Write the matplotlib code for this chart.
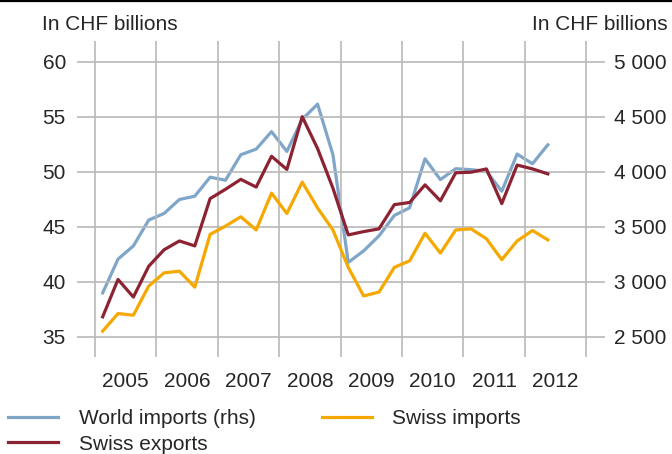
import matplotlib.pyplot as plt
from matplotlib.lines import Line2D
import numpy as np

plt.rcParams['font.family'] = ['Liberation Sans', 'DejaVu Sans']

# quarterly data, 2005 Q1 .. 2012 Q2
years = [2005, 2006, 2007, 2008, 2009, 2010, 2011, 2012]
quarter_pos = np.arange(2005, 2012.5, 0.25) + 0.125

world_imports = [2898, 3205, 3325, 3560, 3620, 3747, 3777, 3950, 3922, 4154,
                 4205, 4364, 4184, 4476, 4614, 4154, 3175, 3280, 3416, 3602,
                 3672, 4117, 3928, 4027, 4018, 4003, 3822, 4160, 4072, 4244]
swiss_exports = [36.8, 40.2, 38.6, 41.4, 42.9, 43.7, 43.25, 47.55, 48.4, 49.3,
                 48.6, 51.4, 50.2, 55.0, 52.1, 48.5, 44.25, 44.55, 44.8, 47.0,
                 47.2, 48.8, 47.35, 49.9, 49.95, 50.25, 47.1, 50.6, 50.25, 49.8]
swiss_imports = [35.5, 37.1, 36.95, 39.6, 40.8, 40.95, 39.5, 44.3, 45.05, 45.9,
                 44.7, 48.05, 46.2, 49.05, 46.7, 44.7, 41.3, 38.7, 39.05, 41.3,
                 41.9, 44.4, 42.6, 44.7, 44.8, 43.9, 42.0, 43.7, 44.65, 43.8]

left_ticks = [35, 40, 45, 50, 55, 60]
right_ticks = [2500, 3000, 3500, 4000, 4500, 5000]

BLUE = '#7fa6c9'
RED = '#8c2332'
ORANGE = '#f5a800'
GRID = '#b9b9b9'
TXT = '#262626'

W, H = 672, 454
fig = plt.figure(figsize=(W / 100, H / 100), dpi=100)
ax = fig.add_axes([77 / W, 1 - 357 / H, 528 / W, 316 / H])
ax2 = ax.twinx()

ylo, yhi = 33.15, 61.88
ax.set_ylim(ylo, yhi)
ax2.set_ylim(100 * ylo - 1000, 100 * yhi - 1000)
ax.set_xlim(2004.707, 2013.306)

for y in left_ticks:
    ax.axhline(y, color=GRID, lw=1.2, zorder=0)
for x in years + [2013]:
    ax.axvline(x, color=GRID, lw=1.2, zorder=0)

l_world, = ax2.plot(quarter_pos, world_imports, color=BLUE, lw=2.3,
                    label='World imports (rhs)')
l_exp, = ax.plot(quarter_pos, swiss_exports, color=RED, lw=2.3,
                 label='Swiss exports')
l_imp, = ax.plot(quarter_pos, swiss_imports, color=ORANGE, lw=2.3,
                 label='Swiss imports')
ax.set_zorder(ax2.get_zorder() + 1)
ax.patch.set_visible(False)

for a in (ax, ax2):
    for s in a.spines.values():
        s.set_visible(False)

ax.set_yticks(left_ticks)
ax.set_yticklabels([str(v) for v in left_ticks])
ax.tick_params(axis='y', length=0, pad=8, labelsize=15, labelcolor=TXT)
ax2.set_yticks(right_ticks)
ax2.set_yticklabels([f'{v:,}'.replace(',', ' ') for v in right_ticks])
ax2.tick_params(axis='y', length=0, pad=6.5, labelsize=15, labelcolor=TXT)

ax.set_xticks([y + 0.5 for y in years])
ax.set_xticklabels([str(y) for y in years])
ax.tick_params(axis='x', length=0, pad=11, labelsize=15, labelcolor=TXT)

fig.text(42 / W, 1 - 24 / H, 'In CHF billions', fontsize=15, color=TXT,
         ha='left', va='center')
fig.text(668 / W, 1 - 24 / H, 'In CHF billions', fontsize=15, color=TXT,
         ha='right', va='center')

# top rule
fig.add_artist(Line2D([0, 1], [1 - 0.75 / H, 1 - 0.75 / H], color='black', lw=1.6))

fig.legend(handles=[l_world, l_exp, l_imp], ncol=2, loc='upper left',
           bbox_to_anchor=(0 / W, 1 - 401 / H), frameon=False, fontsize=15,
           handlelength=2.4, handletextpad=1.0, columnspacing=3.15,
           labelspacing=0.3, borderaxespad=0, labelcolor=TXT)

fig.savefig('out.png', dpi=100)
